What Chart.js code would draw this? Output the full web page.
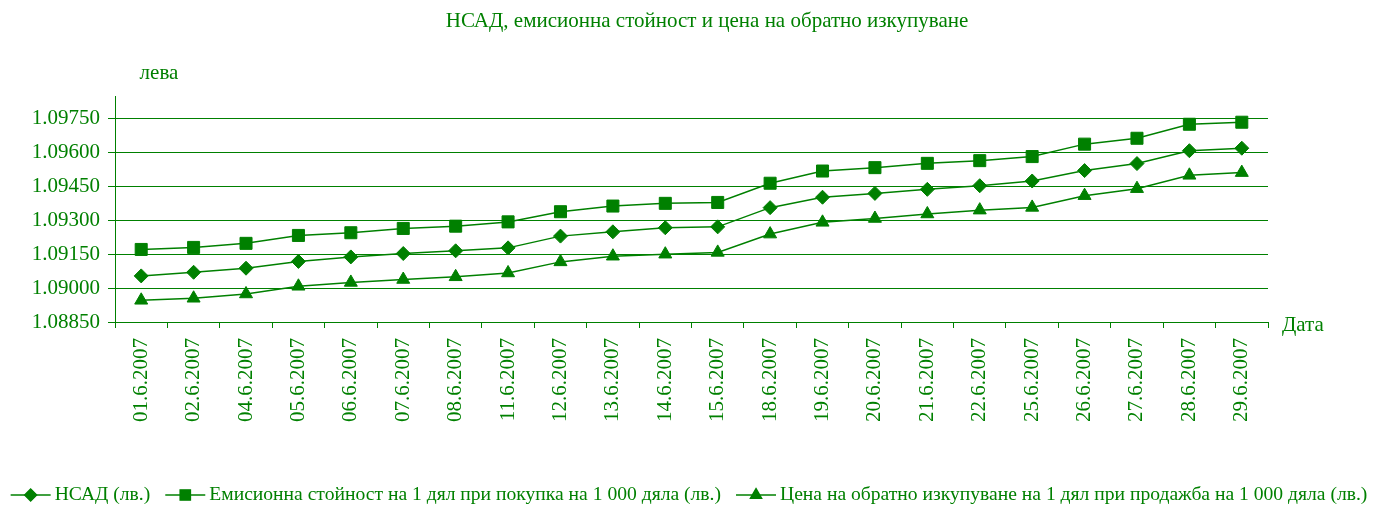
<!DOCTYPE html>
<html>
<head>
<meta charset="utf-8">
<script src="https://cdn.jsdelivr.net/npm/chart.js@4/dist/chart.umd.min.js"></script>
<style>
html,body{margin:0;padding:0;background:#fff;}
#wrap{width:1373px;height:506px;position:relative;}
</style>
</head>
<body>
<div id="wrap"><canvas id="c" width="1373" height="506"></canvas></div>
<script>
const categories = ['01.6.2007','02.6.2007','04.6.2007','05.6.2007','06.6.2007','07.6.2007','08.6.2007','11.6.2007','12.6.2007','13.6.2007','14.6.2007','15.6.2007','18.6.2007','19.6.2007','20.6.2007','21.6.2007','22.6.2007','25.6.2007','26.6.2007','27.6.2007','28.6.2007','29.6.2007'];
const nsad = [1.09054,1.09070,1.09088,1.09118,1.09138,1.09153,1.09165,1.09178,1.09230,1.09249,1.09267,1.09271,1.09356,1.09402,1.09419,1.09437,1.09453,1.09474,1.09520,1.09551,1.09608,1.09619];
const emission = [1.09171,1.09180,1.09198,1.09233,1.09245,1.09264,1.09274,1.09293,1.09338,1.09363,1.09375,1.09379,1.09464,1.09518,1.09533,1.09552,1.09564,1.09582,1.09637,1.09663,1.09725,1.09734];
const redemption = [1.08946,1.08955,1.08974,1.09008,1.09025,1.09038,1.09050,1.09067,1.09116,1.09141,1.09150,1.09158,1.09239,1.09291,1.09308,1.09328,1.09345,1.09357,1.09409,1.09440,1.09499,1.09511];
const yTicks = [1.0885,1.0900,1.0915,1.0930,1.0945,1.0960,1.0975];
const seriesNames = ['НСАД (лв.)','Емисионна стойност на 1 дял при покупка на 1 000 дяла (лв.)','Цена на обратно изкупуване на 1 дял при продажба на 1 000 дяла (лв.)'];
const titleText = 'НСАД, емисионна стойност и цена на обратно изкупуване';
const yTitle = 'лева';
const xTitle = 'Дата';

const GREEN = '#008000';
const FONT = "'Liberation Serif', 'DejaVu Serif', serif";
const styles = [
  {pointStyle:'rectRot', radius:7},
  {pointStyle:'rect', radius:8.5},
  {pointStyle:'triangle', radius:7.5}
];

const textPlugin = {
  id: 'texts',
  afterDraw(chart) {
    const ctx = chart.ctx;
    ctx.save();
    ctx.fillStyle = GREEN;
    ctx.textBaseline = 'middle';
    ctx.textAlign = 'center';
    ctx.font = '21px ' + FONT;
    ctx.fillText(titleText, 707, 21);
    ctx.fillText(yTitle, 159, 73);
    ctx.textAlign = 'left';
    ctx.fillText(xTitle, 1282, 325);
    // legend
    ctx.font = '19.6px ' + FONT;
    const lineW = 40, gapT = 4, gapI = 15;
    const widths = seriesNames.map(s => ctx.measureText(s).width);
    const total = widths.reduce((a,b)=>a+b,0) + 3*(lineW+gapT) + 2*gapI;
    let x = 689 - total/2;
    const y = 495;
    seriesNames.forEach((name, i) => {
      ctx.strokeStyle = GREEN;
      ctx.lineWidth = 1.5;
      ctx.beginPath();
      ctx.moveTo(x, y); ctx.lineTo(x+lineW, y); ctx.stroke();
      ctx.fillStyle = GREEN;
      Chart.helpers.drawPoint(ctx, {pointStyle: styles[i].pointStyle, radius: styles[i].radius*0.85, rotation: 0, borderWidth: 1}, x+lineW/2, y);
      ctx.fill();
      ctx.fillStyle = GREEN;
      ctx.fillText(name, x+lineW+gapT, y);
      x += lineW + gapT + widths[i] + gapI;
    });
    ctx.restore();
  }
};

const datasets = [nsad, emission, redemption].map((d, i) => ({
  label: seriesNames[i],
  data: d,
  borderColor: GREEN,
  backgroundColor: GREEN,
  borderWidth: 1.5,
  tension: 0,
  pointStyle: styles[i].pointStyle,
  pointRadius: styles[i].radius,
  pointHoverRadius: styles[i].radius,
  pointBorderWidth: 1,
  pointBackgroundColor: GREEN,
  pointBorderColor: GREEN
}));

new Chart(document.getElementById('c'), {
  type: 'line',
  data: { labels: categories, datasets },
  options: {
    responsive: false,
    animation: false,
    devicePixelRatio: 1,
    layout: { padding: { left: 0, right: 105, top: 96, bottom: 74 } },
    plugins: { legend: { display: false }, title: { display: false }, tooltip: { enabled: false } },
    scales: {
      x: {
        type: 'category',
        offset: true,
        grid: { offset: true, drawOnChartArea: false, drawTicks: true, tickLength: 6, color: GREEN, lineWidth: 1 },
        border: { display: true, color: GREEN, width: 1 },
        ticks: { color: GREEN, font: { family: FONT, size: 21 }, minRotation: 90, maxRotation: 90, autoSkip: false, padding: 10 },
        afterFit(scale) { scale.height = 110; }
      },
      y: {
        type: 'linear',
        min: 1.0885,
        max: 1.0985,
        afterBuildTicks(scale) { scale.ticks = yTicks.map(v => ({ value: v })); },
        grid: { color: GREEN, lineWidth: 1, drawTicks: true, tickLength: 7 },
        border: { display: true, color: GREEN, width: 1 },
        ticks: { color: GREEN, font: { family: FONT, size: 21 }, padding: 8, callback: v => Number(v).toFixed(5) },
        afterFit(scale) { scale.width = 115; }
      }
    }
  },
  plugins: [textPlugin]
});
</script>
</body>
</html>
